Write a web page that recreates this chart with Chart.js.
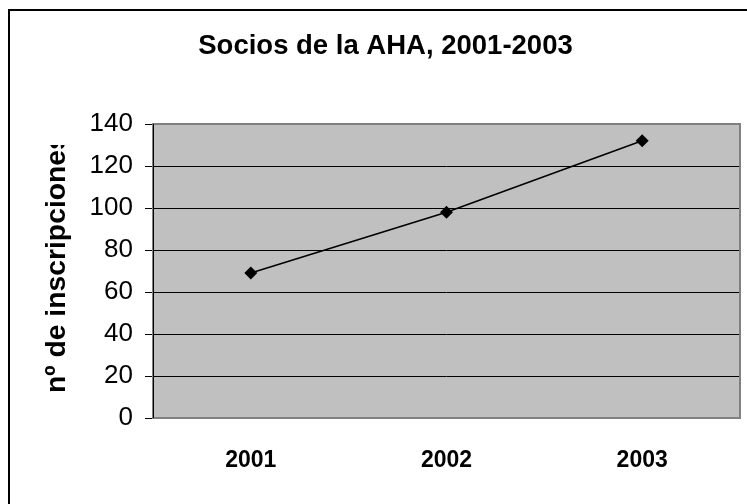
<!DOCTYPE html>
<html>
<head>
<meta charset="utf-8">
<title>Socios de la AHA, 2001-2003</title>
<script src="https://cdn.jsdelivr.net/npm/chart.js@4/dist/chart.umd.min.js"></script>
<style>
  html, body { margin: 0; padding: 0; background: #fff; }
  #chart { display: block; }
</style>
</head>
<body>
<canvas id="chart" width="747" height="504"></canvas>
<script>
const years = ["2001", "2002", "2003"];
const socios = [69, 98, 132];
const chartTitle = "Socios de la AHA, 2001-2003";
const yTitle = "nº de inscripciones";
const yMin = 0;
const yMax = 140;
const yStep = 20;

const FONT = "'Liberation Sans', Arial, sans-serif";

// plot background, gray frame, black y-axis line
const plotFrame = {
  id: "plotFrame",
  beforeDraw(chart) {
    const { ctx, chartArea: a } = chart;
    ctx.save();
    ctx.fillStyle = "#c0c0c0";
    ctx.fillRect(a.left, a.top, a.right - a.left, a.bottom - a.top);
    ctx.restore();
  },
  beforeDatasetsDraw(chart) {
    const { ctx, chartArea: a } = chart;
    ctx.save();
    ctx.strokeStyle = "#808080";
    ctx.lineWidth = 2;
    ctx.strokeRect(a.left, a.top, a.right - a.left, a.bottom - a.top);
    ctx.strokeStyle = "#000";
    ctx.lineWidth = 1;
    ctx.beginPath();
    ctx.moveTo(a.left + 0.5, a.top);
    ctx.lineTo(a.left + 0.5, a.bottom);
    ctx.stroke();
    ctx.restore();
  },
};

// outer chart box, title and the clipped y-axis title
const decorations = {
  id: "decorations",
  afterDraw(chart) {
    const { ctx, width, height } = chart;
    ctx.save();
    ctx.strokeStyle = "#000";
    ctx.lineWidth = 2;
    ctx.beginPath();
    ctx.moveTo(9, height);
    ctx.lineTo(9, 10);
    ctx.lineTo(width, 10);
    ctx.stroke();

    ctx.fillStyle = "#000";
    ctx.font = `bold 27.5px ${FONT}`;
    ctx.textAlign = "center";
    ctx.textBaseline = "alphabetic";
    ctx.fillText(chartTitle, 385.5, 54);

    ctx.beginPath();
    ctx.rect(0, 145, width, height - 145);
    ctx.clip();
    ctx.translate(65, 393);
    ctx.rotate(-Math.PI / 2);
    ctx.font = `bold 28.3px ${FONT}`;
    ctx.textAlign = "left";
    ctx.fillText(yTitle, 0, 0);
    ctx.restore();
  },
};

new Chart(document.getElementById("chart"), {
  type: "line",
  data: {
    labels: years,
    datasets: [
      {
        label: "Socios",
        data: socios,
        borderColor: "#000",
        borderWidth: 1.6,
        tension: 0,
        pointStyle: "rectRot",
        pointRadius: 6.5,
        pointBackgroundColor: "#000",
        pointBorderColor: "#000",
        pointBorderWidth: 0,
      },
    ],
  },
  options: {
    responsive: false,
    animation: false,
    devicePixelRatio: 1,
    layout: { padding: { top: 124, left: 0, right: 7, bottom: 0 } },
    plugins: {
      legend: { display: false },
      title: { display: false },
      tooltip: { enabled: false },
    },
    scales: {
      x: {
        offset: true,
        grid: { display: false, drawTicks: false },
        border: { display: false },
        ticks: {
          color: "#000",
          padding: 29,
          font: { family: FONT, size: 23, weight: "bold" },
        },
        afterFit: (s) => { s.height = 86; },
      },
      y: {
        min: yMin,
        max: yMax,
        grid: { color: "#000", lineWidth: 1, tickLength: 8, drawTicks: true },
        border: { display: false },
        ticks: {
          stepSize: yStep,
          color: "#000",
          padding: 12,
          font: { family: FONT, size: 26 },
        },
        afterFit: (s) => { s.width = 153; },
      },
    },
  },
  plugins: [plotFrame, decorations],
});
</script>
</body>
</html>
